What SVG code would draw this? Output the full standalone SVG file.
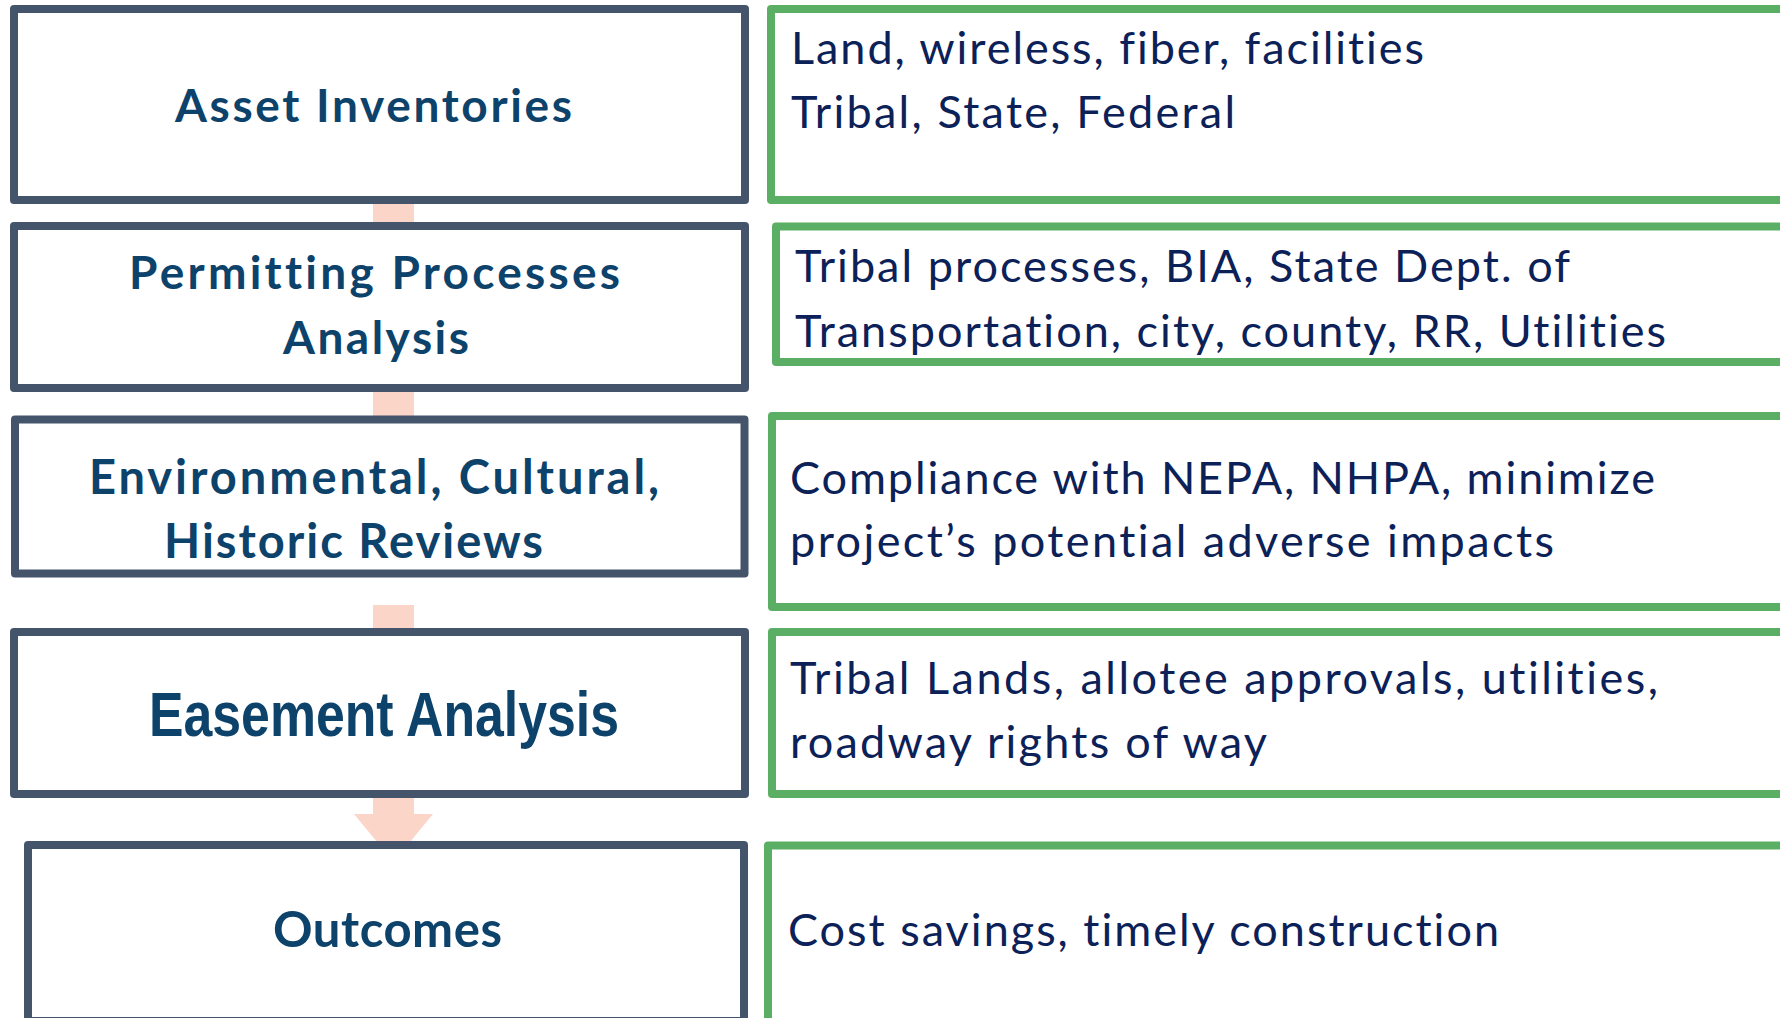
<svg xmlns="http://www.w3.org/2000/svg" width="1780" height="1018" viewBox="0 0 1780 1018">
<style>
.step{fill:#ffffff;stroke:#44546A;stroke-width:8;stroke-linejoin:round}
.note{fill:#ffffff;stroke:#5BAF65;stroke-width:8;stroke-linejoin:round}
.conn{fill:#FCD5C9;stroke:none}
text{font-variant-ligatures:none;font-feature-settings:"liga" 0,"clig" 0}
.title{font-family:Lato,"Open Sans",sans-serif;font-weight:700;fill:#0D426B}
.ease{font-family:"Liberation Sans",Arial,sans-serif;font-weight:700;fill:#0D426B}
.desc{font-family:Lato,"Open Sans",sans-serif;font-weight:400;font-size:45px;fill:#0B2158}
</style>
<rect width="1780" height="1018" fill="#ffffff"/>
<g id="connectors">
<rect class="conn" x="373" y="198" width="41" height="30"/>
<rect class="conn" x="373" y="386" width="41" height="36"/>
<rect class="conn" x="373" y="605" width="41" height="30"/>
<path class="conn" d="M373,792 L414,792 L414,814 L433,814 L393.5,862 L354,814 L373,814 Z"/>
</g>
<g id="asset-inventories">
<rect class="step" x="14" y="9" width="731" height="191"/>
<text class="title" x="175" y="122" font-size="46" textLength="397">Asset Inventories</text>
</g>
<g id="asset-notes">
<rect class="note" x="771" y="9" width="1030" height="191"/>
<text class="desc" x="791" y="64" textLength="633">Land, wireless, fiber, facilities</text>
<text class="desc" x="791" y="128" textLength="444">Tribal, State, Federal</text>
</g>
<g id="permitting">
<rect class="step" x="14" y="226" width="731" height="162"/>
<text class="title" x="129" y="289" font-size="46" textLength="491">Permitting Processes</text>
<text class="title" x="283" y="354" font-size="46" textLength="186">Analysis</text>
</g>
<g id="permitting-notes">
<rect class="note" x="776" y="226.5" width="1030" height="135.5"/>
<text class="desc" x="795" y="282" textLength="775">Tribal processes, BIA, State Dept. of</text>
<text class="desc" x="795" y="347" textLength="871">Transportation, city, county, RR, Utilities</text>
</g>
<g id="reviews">
<rect class="step" x="15" y="419.5" width="729.5" height="154"/>
<text class="title" x="89" y="494" font-size="47" textLength="570">Environmental, Cultural,</text>
<text class="title" x="164" y="558" font-size="47" textLength="379">Historic Reviews</text>
</g>
<g id="reviews-notes">
<rect class="note" x="772" y="416" width="1030" height="191"/>
<text class="desc" x="790" y="494" textLength="865">Compliance with NEPA, NHPA, minimize</text>
<text class="desc" x="790" y="557" textLength="764">project’s potential adverse impacts</text>
</g>
<g id="easement">
<rect class="step" x="14" y="632" width="731" height="162"/>
<text class="ease" x="149" y="736" font-size="63" textLength="470" lengthAdjust="spacingAndGlyphs">Easement Analysis</text>
</g>
<g id="easement-notes">
<rect class="note" x="772" y="632" width="1030" height="162"/>
<text class="desc" x="790" y="694" textLength="868">Tribal Lands, allotee approvals, utilities,</text>
<text class="desc" x="790" y="758" textLength="477">roadway rights of way</text>
</g>
<g id="outcomes">
<rect class="step" x="28" y="845" width="716" height="176"/>
<text class="title" x="273" y="947" font-size="49" textLength="229">Outcomes</text>
</g>
<g id="outcomes-notes">
<rect class="note" x="768" y="845.5" width="1030" height="180"/>
<text class="desc" x="788" y="946" textLength="711">Cost savings, timely construction</text>
</g>
</svg>
